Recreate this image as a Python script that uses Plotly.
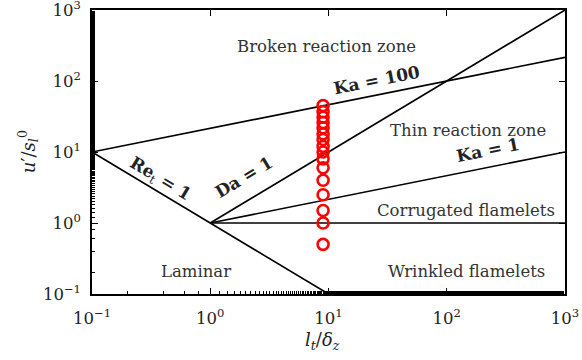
import numpy as np
import plotly.graph_objects as go

# regime boundary lines (x = l_t/delta_z, y = u'/s_l^0)
re1_x = [0.1, 10]
re1_y = [10, 0.1]
da1_x = [1, 1000]
da1_y = [1, 1000]
ka1_x = [1, 1000]
ka1_y = [1, 10]
ka100_x = [0.1, 1000]
ka100_y = [10, 215.4]
flat_x = [1, 1000]
flat_y = [1, 1]

# operating points
pts_y = [0.5, 1.0, 1.5, 2.5, 4, 6, 8, 10, 12, 15, 18, 22, 26, 31, 37, 45]
pts_x = [9.0] * len(pts_y)

tick_vals = [0.1, 1, 10, 100, 1000]
tick_text = ["10<sup>−1</sup>", "10<sup>0</sup>", "10<sup>1</sup>", "10<sup>2</sup>", "10<sup>3</sup>"]
minor_vals = [m * d for d in [0.1, 1, 10, 100] for m in range(2, 10)]

FONT = "DejaVu Serif"
fig = go.Figure()
for xs, ys in [(re1_x, re1_y), (da1_x, da1_y), (ka1_x, ka1_y), (ka100_x, ka100_y), (flat_x, flat_y)]:
    fig.add_trace(go.Scatter(x=xs, y=ys, mode="lines", line=dict(color="black", width=1.6),
                             showlegend=False, hoverinfo="skip"))
fig.add_trace(go.Scatter(x=pts_x, y=pts_y, mode="markers",
                         marker=dict(symbol="circle-open", size=11, color="#ff0000",
                                     line=dict(width=2.6, color="#ff0000")),
                         showlegend=False))
# invisible trace on mirrored axes so they get drawn
fig.add_trace(go.Scatter(x=[1], y=[1], xaxis="x2", yaxis="y2", mode="markers",
                         marker=dict(opacity=0), showlegend=False, hoverinfo="skip"))

labels = [
    ("Broken reaction zone", 0.987, 2.479, 0, 16.5, False),
    ("Thin reaction zone", 2.180, 1.296, 0, 16.5, False),
    ("Corrugated flamelets", 2.163, 0.183, 0, 16.5, False),
    ("Wrinkled flamelets", 2.163, -0.690, 0, 16.5, False),
    ("Laminar", -0.121, -0.676, 0, 16.5, False),
    ("<b>Ka = 100</b>", 1.410, 2.014, -11.3, 17, True),
    ("<b>Ka = 1</b>", 2.349, 1.028, -11.3, 17, True),
    ("<b>Re</b><sub>t</sub><b> = 1</b>", -0.425, 0.606, 31, 17, True),
    ("<b>Da = 1</b>", 0.285, 0.648, -31, 17, True),
]
for txt, lx, ly, ang, sz, bold in labels:
    fig.add_annotation(x=lx, y=ly, xref="x", yref="y", text=txt, showarrow=False,
                       textangle=ang, font=dict(family=FONT, size=sz,
                                                color="#222" if bold else "#333"))

# axis titles
fig.add_annotation(x=0.487, y=-0.165, xref="paper", yref="paper", showarrow=False,
                   xanchor="center", yanchor="middle",
                   text="<i>l<sub>t</sub></i>/<i>δ<sub>z</sub></i>",
                   font=dict(family=FONT, size=18, color="#222"))
fig.add_annotation(x=-0.135, y=0.5, xref="paper", yref="paper", showarrow=False, textangle=-90,
                   xanchor="center", yanchor="middle",
                   text="<i>u</i>′/<i>s</i><sub><i>l</i></sub><sup>0</sup>",
                   font=dict(family=FONT, size=18, color="#222"))

base = dict(type="log", range=[-1, 3], showgrid=False, zeroline=False, showline=True,
            linecolor="black", linewidth=1.5, ticks="inside", automargin=False,
            ticklen=6, tickwidth=1.2, tickcolor="black", tickvals=tick_vals)
main_minor = dict(minor=dict(ticks="inside", ticklen=3, tickcolor="black", tickwidth=1,
                             showgrid=False))
lab_font = dict(family=FONT, size=16.5, color="#222")
fig.update_layout(
    xaxis=dict(**base, **main_minor, ticktext=tick_text, tickfont=lab_font,
               ticklabeloverflow="allow", ticklabelstandoff=8),
    yaxis=dict(**base, **main_minor, ticktext=tick_text, tickfont=lab_font,
               ticklabeloverflow="allow", ticklabelstandoff=6),
    xaxis2=dict(**base, overlaying="x", side="top", anchor="y", showticklabels=False),
    yaxis2=dict(**base, overlaying="y", side="right", anchor="x", showticklabels=False),
    width=582, height=360, margin=dict(l=92, r=17, t=10, b=66, autoexpand=False),
    plot_bgcolor="white", paper_bgcolor="white",
)
fig.write_html("out.html", config={"displayModeBar": False},
               post_script="document.body.style.margin='0';document.body.style.padding='0';")
